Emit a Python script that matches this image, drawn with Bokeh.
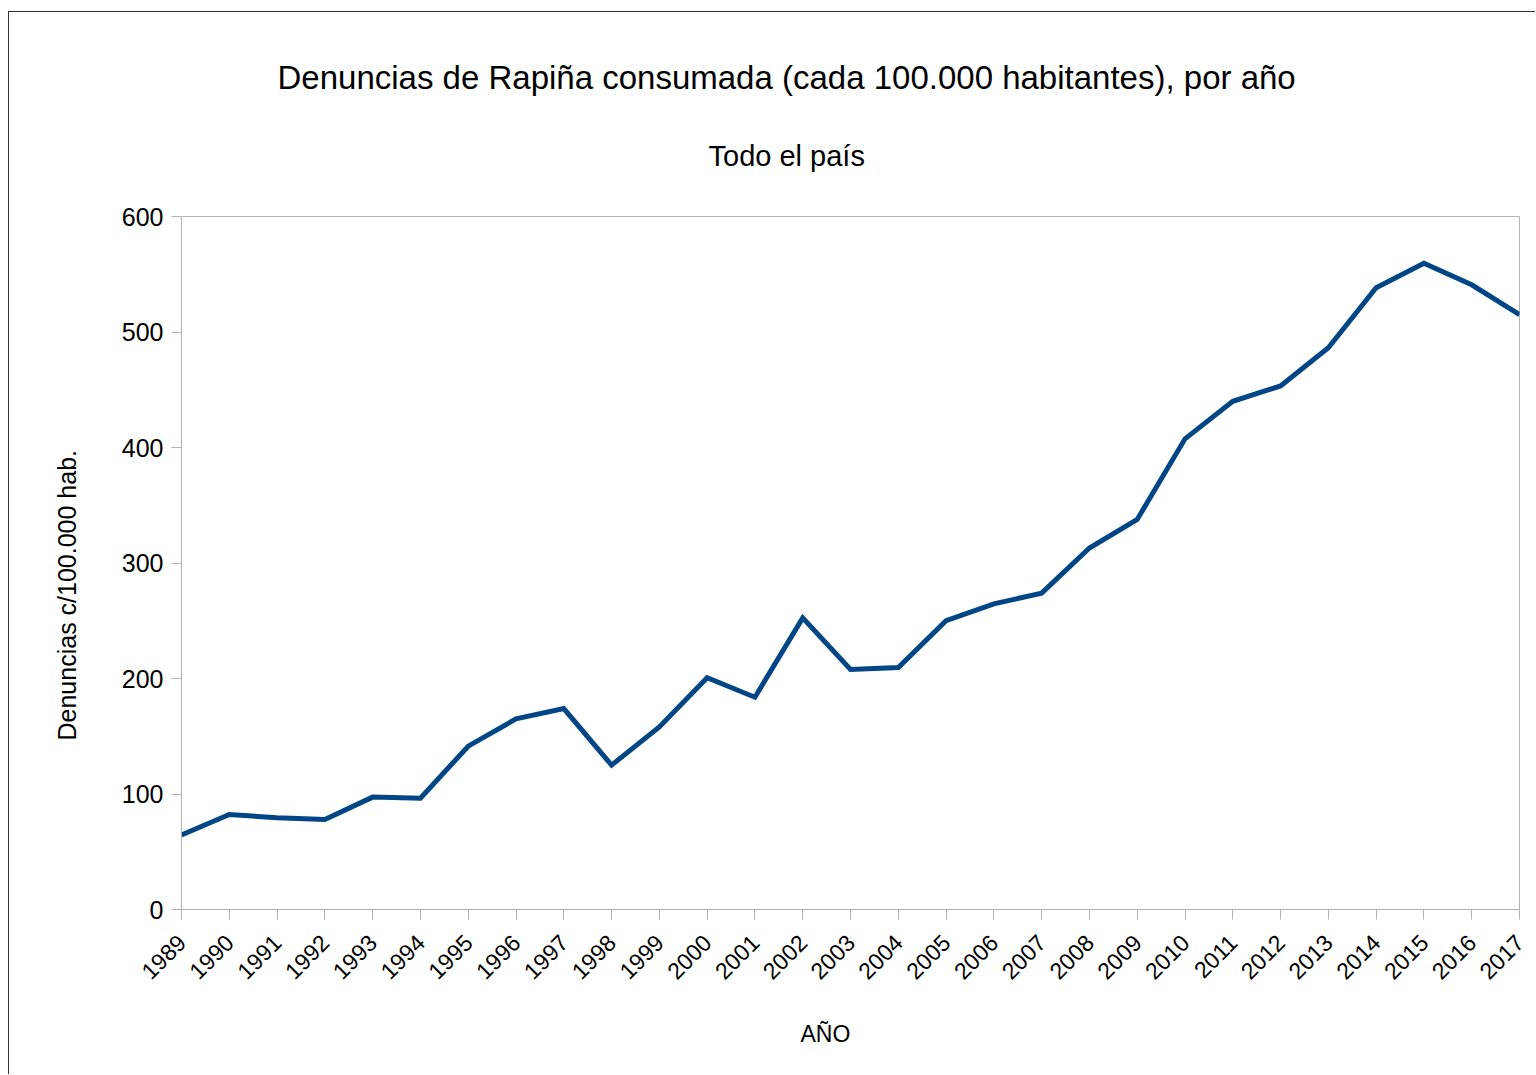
import math
from bokeh.plotting import figure
from bokeh.models import Title, FixedTicker, Range1d
from bokeh.embed import file_html
from bokeh.resources import INLINE

years = list(range(1989, 2018))
rapinas = [64.6, 82.2, 79.4, 78.0, 97.3, 96.4, 141.4, 165.0, 174.0, 125.0,
           158.0, 200.6, 183.8, 252.5, 207.8, 209.5, 250.0, 264.6, 273.9, 313.0,
           337.7, 407.5, 440.0, 453.3, 486.3, 538.3, 559.6, 540.9, 515.0]
y_ticks = [0, 100, 200, 300, 400, 500, 600]

title_text = "Denuncias de Rapiña consumada (cada 100.000 habitantes), por año"
subtitle_text = "Todo el país"
x_label = "AÑO"
y_label = "Denuncias c/100.000 hab."

FONT = "Liberation Sans"
W, H = 1527, 1063

p = figure(width=W, height=H, output_backend="svg", toolbar_location=None,
           x_range=Range1d(1989, 2017), y_range=Range1d(0, 600),
           min_border_left=172, min_border_right=17,
           min_border_top=204, min_border_bottom=166)
p.styles = {"border-left": "1px solid #333333", "border-top": "1px solid #333333",
            "margin-left": "8px", "margin-top": "11px"}

p.line(years, rapinas, line_color="#004586", line_width=5, line_join="miter")

p.xgrid.visible = False
p.ygrid.visible = False
p.outline_line_color = "#b3b3b3"
p.outline_line_width = 1

for ax in (p.xaxis[0], p.yaxis[0]):
    ax.axis_line_color = "#b3b3b3"
    ax.major_tick_line_color = "#b3b3b3"
    ax.minor_tick_line_color = None
    ax.major_tick_in = 0
    ax.major_tick_out = 10
    ax.major_label_text_font = FONT
    ax.major_label_text_color = "#000000"

p.xaxis.ticker = FixedTicker(ticks=years)
p.xaxis.major_label_orientation = math.pi / 4
p.xaxis.major_label_text_font_size = "23px"
p.xaxis.major_label_standoff = 19
p.yaxis.ticker = FixedTicker(ticks=y_ticks)
p.yaxis.major_label_text_font_size = "25px"
p.yaxis.major_label_standoff = 8

def mk_title(text, size, offset, standoff):
    return Title(text=text, align="left", offset=offset, standoff=standoff,
                 text_font=FONT, text_font_size=size, text_font_style="normal",
                 text_color="#000000")

# subtitle first (closest to frame), then main title above it
p.add_layout(mk_title(subtitle_text, "29px", 527, 89), "above")
p.add_layout(mk_title(title_text, "33px", 96, -4), "above")
p.add_layout(mk_title(x_label, "23px", 619, 58), "below")
p.add_layout(mk_title(y_label, "25px", 169, 76), "left")

open("out.html", "w").write(file_html(p, INLINE))
